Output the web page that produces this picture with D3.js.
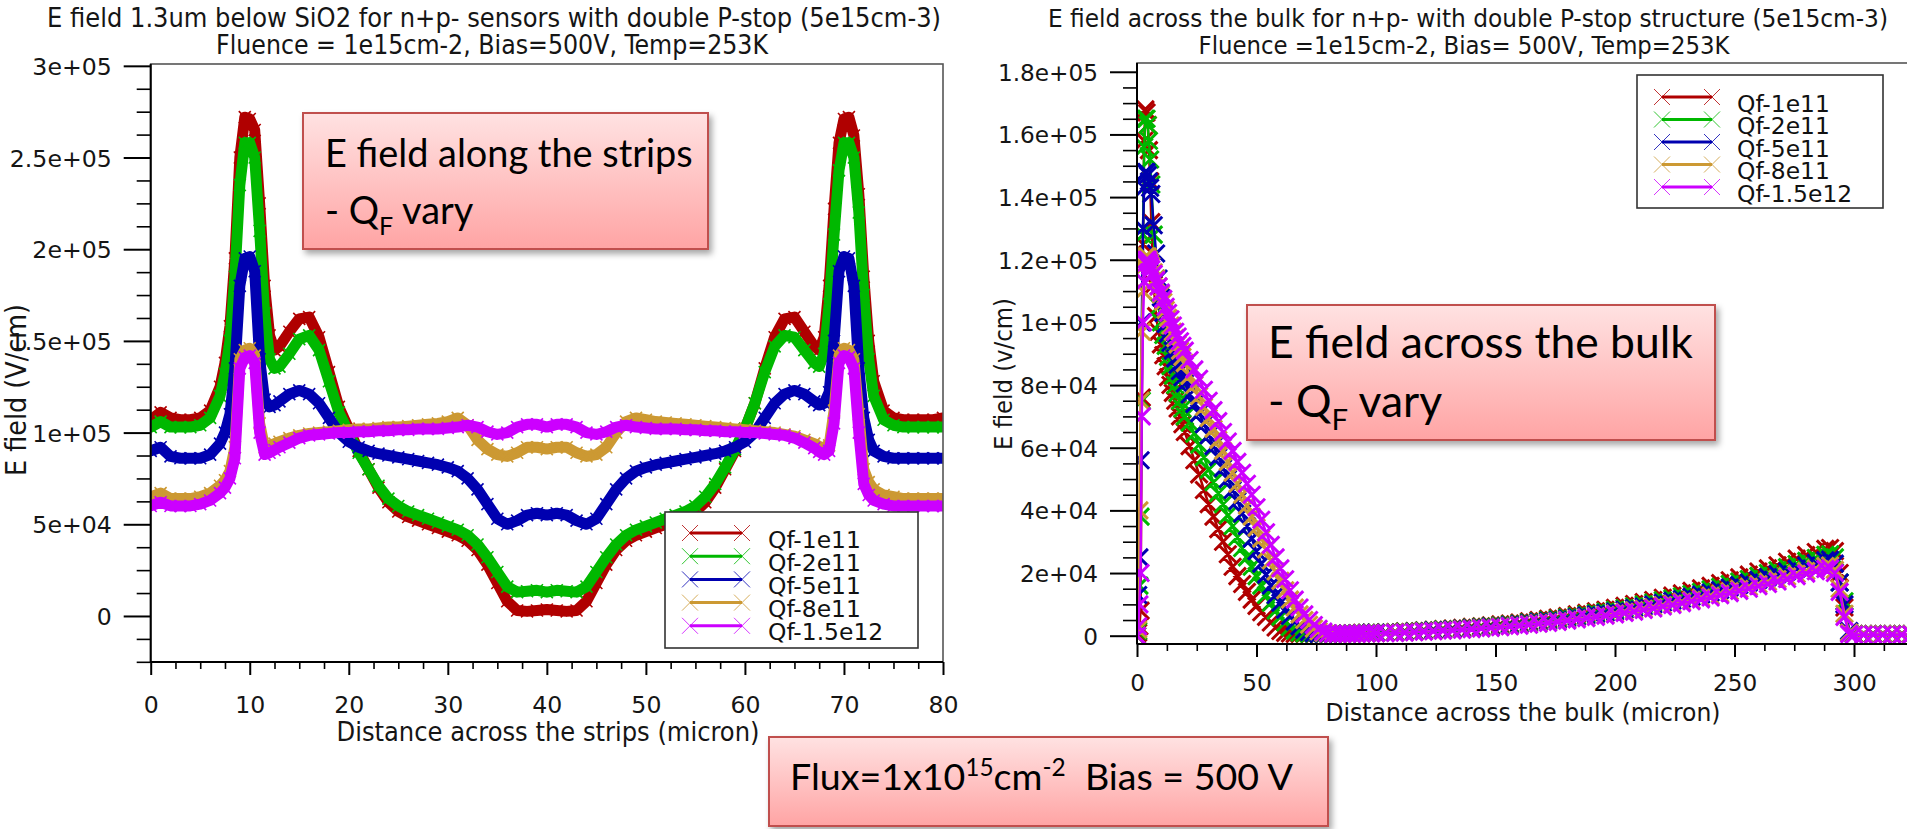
<!DOCTYPE html>
<html>
<head>
<meta charset="utf-8">
<title>E field – n+p- sensors with double P-stop</title>
<script src="https://cdn.jsdelivr.net/npm/d3@7/dist/d3.min.js"></script>
<style>
  html, body { margin: 0; padding: 0; background: #ffffff; overflow: hidden; }
  svg { display: block; }
</style>
</head>
<body>
<svg id="chart" width="1907" height="829"></svg>
<script>
// E field values are stored in kV/cm; KV converts them to V/cm for the axes.
const KV = 1000;
const seriesNames = ["Qf-1e11", "Qf-2e11", "Qf-5e11", "Qf-8e11", "Qf-1.5e12"];

// ---- Cut 1.3 um below the SiO2, across the strips (micron) ----
const stripX = [0,1,2,3,4,5,6,7,
  7.5,8,8.5,9,9.5,10,10.5,11,11.5,12,12.5,13,
  14,15,16,17,18,19,20,21,22,23,24,25,26,27,28,29,30,31,32,33,
  34,35,36,37,38,39,40,41,42,43,44,45,46,47,48,49,50,51,52,53,
  54,55,56,57,58,59,60,61,62,63,64,65,66,67,
  67.5,68,68.5,69,69.5,70,70.5,71,71.5,72,72.5,73,
  74,75,76,77,78,79,80];
const stripQf1e11 = [107,111,108,107,107,108,112,125,
  138,158,195,250,272,271,265,225,180,153,145,147,
  155,162,163,152,133,114,102,90,80,70, 62,57,54,52,50,48,46,44,41,36,
  28,18,8,3,2.5,3,3.5,3,2.5,3, 8,18,28,36,41,44,46,48,50,52,
  54,57,62,70,80,90,102,116,135,152, 162,163,155,147,
  145,152,180,222,258,271,272,262,230,185,150,128,
  112,108,107,107,107,107,108];
const stripQf2e11 = [103,106,103,103,103,104,108,120,
  132,150,185,235,258,258,250,210,165,140,135,136,
  143,151,153,145,128,111,100,89,80,71, 64,60,57,55,53,51,49,47,44,39,
  32,24,16,13,13.5,14,13,14,13.5,13, 16,24,32,39,44,47,49,51,53,55,
  57,60,65,72,81,91,102,116,133,147, 153,152,145,138,
  136,143,170,208,243,258,258,250,220,175,140,120,
  107,104,103,103,103,103,103];
const stripQf5e11 = [90,92,87,86,86,86,88,94,
  100,110,135,180,195,196,188,140,118,114,115,117,
  121,123,121,116,108,100,95,92,90,88.5, 87.5,86.5,85.5,84.5,83.5,82.5,81,79,75,69,
  61,53,50,52,55,56,55,56,55,52, 50,53,61,69,75,79,81,82.5,83.5,84.5,
  85.5,86.5,87.5,88.5,90,92,95,100,108,116, 121,123,121,117,
  115,116,122,150,188,196,195,180,135,108,96,90,
  87,86,86,86,86,86,86];
const stripQf8e11 = [65,67,64,64,64,65,67,71,
  74,79,92,140,145,146,142,105,92,93,94,95,
  97,98.5,99.5,100,100.5,101,101.5,102,102,102.5, 103,103,103.5,104,104.5,105,106,108,104,96,
  91,88,87,89,92,92,91,92,92,89, 87,88,92,100,106,108,107,106,105.5,105,
  104.5,104,103.5,103,102.5,102,101.5,101,100.5,100, 99,98,96,94,
  92.5,91,93,112,142,146,145,140,110,80,73,69,
  66,65,64,64,64,64,64];
const stripQf15e12 = [60,62,60,60,60,61,63,67,
  70,75,86,135,141,142,138,100,88,89,90.5,92,
  94.5,97,98.5,99,99.5,100,100,100.5,100.5,101, 101,101.5,101.5,102,102,102,102.5,103,104,103,
  100.5,99,100,103,104.5,104.5,103,104.5,104.5,103, 100,99,100.5,103,104,103,102.5,102,102,102,
  101.5,101.5,101,101,100.5,100.5,100,100,99.5,99, 98.5,97,94.5,91.5,
  89.5,88,90,105,138,142,141,135,100,72,66,63,
  61,60,60,60,60,60,60];

// ---- Cut across the bulk (micron) ----
const bulkX = [0,0.5,1,1.5,2,2.5,3,3.5,4,4.5,5,5.5,6,
  7,8,9,10,11,12,13,14,15,16,17,18,19,20,
  22,24,26,28,30,32,34,36,38,40, 42,44,46,48,50,52,54,56,58,60,
  62,64,66,68,70,72,74,76,78,80, 82,84,86,88,90,92,94,96,98,100,
  104,108,112,116,120,124,128,132,136,140, 144,148,152,156,160,164,168,172,176,180,
  184,188,192,196,200,204,208,212,216,220, 224,228,232,236,240,244,248,252,256,260,
  264,268,272,276,280,284,288,
  290,292,294,296,298,300,
  304,308,312,316,320,324,328];
const bulkQf1e11 = [0,1,3,8,76,125,158,168,167,163,155,145,132,
  112,102,97,93,89.5,86,82.5,80,77.5,75,72.5,70,67.5,65,
  60.5,56,51.5,46.5,42,38,34,30,26,22, 19,16.5,14,11.5,9.5,7.5,6,4.2,2.6,1.5,
  0.9,0.7,0.6,0.6,0.6,0.6,0.6,0.6,0.6,0.6, 0.6,0.6,0.7,0.7,0.8,0.8,0.9,0.9,1.0,1.0,
  1.1,1.2,1.4,1.5,1.7,1.9,2.1,2.3,2.5,2.8, 3.0,3.3,3.6,3.9,4.2,4.6,5.0,5.4,5.8,6.3,
  6.8,7.3,7.8,8.3,8.9,9.5,10.1,10.7,11.4,12.1, 12.8,13.5,14.3,15.1,15.9,16.8,17.7,18.6,19.5,20.5,
  21.5,22.5,23.6,24.6,25.7,26.7,27.7,
  28,27,20,9,1,0.5,
  0.5,0.5,0.5,0.5,0.5,0.5,0.5];
const bulkQf2e11 = [0,1.5,16,38,75,128,156,165,165,163,158,152,144,
  128,114,105,100,96,92.5,89,86,83,80,77.5,75,72.5,70,
  68,64.5,61,57,53,49,45.5,42,38.5,35, 31.5,28,25,22,19,16,13,10.5,8,6,
  4.2,2.7,1.6,1,0.7,0.6,0.6,0.6,0.6,0.6, 0.6,0.6,0.6,0.7,0.7,0.8,0.8,0.9,0.9,1.0,
  1.0,1.1,1.3,1.4,1.6,1.8,2.0,2.1,2.3,2.6, 2.8,3.1,3.3,3.6,3.9,4.3,4.6,5.0,5.4,5.9,
  6.3,6.8,7.3,7.7,8.3,8.8,9.4,10.0,10.6,11.3, 11.9,12.6,13.3,14.0,14.8,15.6,16.5,17.3,18.1,19.1,
  20.0,20.9,21.9,22.9,23.9,24.8,25.8,
  26,25,17,11,1,0.5,
  0.5,0.5,0.5,0.5,0.5,0.5,0.5];
const bulkQf5e11 = [0,13,25,56,100,130,143,148,148,147,145,143,141,
  131,122,114,108,103,99.5,96.5,93.5,91,88.5,86.5,84.5,82.5,80.5,
  77,74,71,67.5,64,60.5,57,53.5,50,46.5, 43,39,35,31,27,23,19.5,16,13,10.5,
  8.3,6.3,4.5,3,1.9,1.2,0.8,0.6,0.6,0.6, 0.6,0.6,0.6,0.6,0.7,0.7,0.8,0.8,0.9,0.9,
  1.0,1.0,1.2,1.3,1.5,1.7,1.8,2.0,2.2,2.4, 2.6,2.9,3.1,3.4,3.7,4.0,4.4,4.7,5.0,5.5,
  5.9,6.4,6.8,7.2,7.7,8.3,8.8,9.3,9.9,10.5, 11.1,11.7,12.4,13.1,13.8,14.6,15.4,16.2,17.0,17.8,
  18.7,19.6,20.5,21.4,22.4,23.2,24.1,
  24.3,23,17,10,1.5,0.5,
  0.5,0.5,0.5,0.5,0.5,0.5,0.5];
const bulkQf8e11 = [0,2,40,75,97,110,118,121,121,121,120,119,118,
  116,114,111.5,109,106.5,104,101.5,99,97,95,93,91,89,87,
  83,80,76.5,73,69.5,66,62.5,59,55.5,52, 48.5,45,41.5,38,34.5,31,27.5,24,20.5,17.5,
  14.5,11.5,9,6.8,5,3.5,2.3,1.4,0.9,0.7, 0.6,0.6,0.6,0.6,0.6,0.6,0.7,0.7,0.7,0.8,
  0.9,1.0,1.1,1.2,1.4,1.5,1.7,1.8,2.0,2.2, 2.4,2.6,2.9,3.1,3.4,3.7,4.0,4.3,4.6,5.0,
  5.4,5.8,6.2,6.6,7.1,7.6,8.1,8.6,9.1,9.7, 10.2,10.8,11.4,12.1,12.7,13.4,14.2,14.9,15.6,16.4,
  17.2,18.0,18.9,19.7,20.6,21.4,22.2,
  22.4,21,15,7,1,0.5,
  0.5,0.5,0.5,0.5,0.5,0.5,0.5];
const bulkQf15e12 = [0,3,10,20,70,100,113,119,120,120,119,118,117,
  115.5,113.5,111.5,109.5,107.5,105,103,101,99,97,95.5,94,92.5,91,
  88,85,82,78.5,75,72,68.5,65,62,59, 55.5,52,48.5,45,41,37,33,29,25,21.5,
  18,14.5,11.5,9,6.8,5,3.4,2.2,1.3,0.8, 0.6,0.6,0.6,0.6,0.6,0.6,0.7,0.7,0.7,0.8,
  0.8,0.9,1.0,1.1,1.3,1.4,1.6,1.7,1.9,2.1, 2.3,2.5,2.7,3.0,3.2,3.5,3.8,4.1,4.4,4.8,
  5.2,5.6,6.0,6.4,6.8,7.3,7.7,8.2,8.7,9.3, 9.8,10.4,11.0,11.6,12.2,12.9,13.6,14.3,15.0,15.8,
  16.5,17.3,18.1,19.0,19.8,20.6,21.3,
  21.5,20,14,6,0.5,0.3,
  0.3,0.4,0.3,0.4,0.3,0.4,0.3];

// ---- Axis ticks and labels ----
const stripXTicks = [0,10,20,30,40,50,60,70,80];
const stripXTickLabels = ["0","10","20","30","40","50","60","70","80"];
const stripYTicks = [0,5e4,1e5,1.5e5,2e5,2.5e5,3e5];
const stripYTickLabels = ["0","5e+04","1e+05","1.5e+05","2e+05","2.5e+05","3e+05"];
const bulkXTicks = [0,50,100,150,200,250,300];
const bulkXTickLabels = ["0","50","100","150","200","250","300"];
const bulkYTicks = [0,2e4,4e4,6e4,8e4,1e5,1.2e5,1.4e5,1.6e5,1.8e5];
const bulkYTickLabels = ["0","2e+04","4e+04","6e+04","8e+04","1e+05","1.2e+05","1.4e+05","1.6e+05","1.8e+05"];

// ---- Styling ----
const seriesColors = ["#b00000", "#00b800", "#0000b0", "#cc9933", "#cc00ff"];
const FONT_TICK = "'DejaVu Sans', sans-serif";
const FONT_ROOT = "'DejaVu Sans Condensed', 'DejaVu Sans', sans-serif";
const FONT_NOTE = "Lato, 'Open Sans', sans-serif";

const svg = d3.select("#chart");
svg.append("rect").attr("width", 1907).attr("height", 829).attr("fill", "#fff");
const defs = svg.append("defs");

// Panel geometry
const stripFrame = { left: 150.7, right: 943, top: 64, bottom: 662 };
const bulkFrame = { left: 1137, right: 1137 + 335 * 2.39, top: 63, bottom: 644 };

const stripXScale = d3.scaleLinear().domain([0, 80]).range([stripFrame.left, stripFrame.right]);
const stripYScale = d3.scaleLinear().domain([-25100, 301000]).range([stripFrame.bottom, stripFrame.top]);
const bulkXScale = d3.scaleLinear().domain([0, 335]).range([bulkFrame.left, bulkFrame.right]);
const bulkYScale = d3.scaleLinear().domain([-2650, 182800]).range([bulkFrame.bottom, bulkFrame.top]);

function clipFor(id, f) {
  defs.append("clipPath").attr("id", id).append("rect")
    .attr("x", f.left).attr("y", f.top)
    .attr("width", f.right - f.left).attr("height", f.bottom - f.top);
}
clipFor("clipStrip", stripFrame);
clipFor("clipBulk", bulkFrame);

function crossPath(points, h) {
  let d = "";
  points.forEach(([px, py]) => {
    d += `M${px - h},${py - h}L${px + h},${py + h}M${px - h},${py + h}L${px + h},${py - h}`;
  });
  return d;
}

function drawCurves(xs, seriesList, xScale, yScale, clipId, style) {
  const g = svg.append("g").attr("clip-path", `url(#${clipId})`);
  seriesList.forEach((vals, i) => {
    const pts = xs.map((xv, k) => [xScale(xv), yScale(vals[k] * KV)]);
    g.append("path")
      .attr("d", d3.line()(pts))
      .attr("fill", "none")
      .attr("stroke", seriesColors[i])
      .attr("stroke-width", style.lineWidth)
      .attr("stroke-linejoin", "round")
      .attr("stroke-linecap", "round");
    g.append("path")
      .attr("d", crossPath(pts, style.markHalf))
      .attr("fill", "none")
      .attr("stroke", seriesColors[i])
      .attr("stroke-width", style.markWidth);
  });
}

drawCurves(stripX, [stripQf1e11, stripQf2e11, stripQf5e11, stripQf8e11, stripQf15e12],
  stripXScale, stripYScale, "clipStrip", { lineWidth: 11, markHalf: 6, markWidth: 1.6 });
drawCurves(bulkX, [bulkQf1e11, bulkQf2e11, bulkQf5e11, bulkQf8e11, bulkQf15e12],
  bulkXScale, bulkYScale, "clipBulk", { lineWidth: 2.5, markHalf: 8.5, markWidth: 3 });

// ---- Frames and axes ----
function frame(f) {
  svg.append("rect")
    .attr("x", f.left).attr("y", f.top)
    .attr("width", f.right - f.left).attr("height", f.bottom - f.top)
    .attr("fill", "none").attr("stroke", "#555").attr("stroke-width", 1.6);
  svg.append("line").attr("x1", f.left).attr("x2", f.left).attr("y1", f.top).attr("y2", f.bottom)
    .attr("stroke", "#000").attr("stroke-width", 2);
  svg.append("line").attr("x1", f.left).attr("x2", f.right).attr("y1", f.bottom).attr("y2", f.bottom)
    .attr("stroke", "#000").attr("stroke-width", 2);
}
frame(stripFrame);
frame(bulkFrame);

function styleAxis(g, fontSize, dy) {
  g.select(".domain").remove();
  g.selectAll(".tick line").attr("stroke", "#000").attr("stroke-width", 2);
  g.selectAll(".tick text")
    .attr("font-family", FONT_TICK).attr("font-size", fontSize)
    .attr("fill", "#151515");
  if (dy !== undefined) g.selectAll(".tick text").attr("dy", dy);
}

function minorTicks(axis, transform) {
  const g = svg.append("g").attr("transform", transform).call(axis);
  g.select(".domain").remove();
  g.selectAll("text").remove();
  g.selectAll(".tick line").attr("stroke", "#000").attr("stroke-width", 1.6);
}

function yAxis(scale, x0, ticks, labels, minor, fontSize) {
  minorTicks(d3.axisLeft(scale).tickValues(minor).tickSize(14), `translate(${x0},0)`);
  const g = svg.append("g").attr("transform", `translate(${x0},0)`)
    .call(d3.axisLeft(scale).tickValues(ticks).tickFormat((d, i) => labels[i]).tickSize(27).tickPadding(12));
  styleAxis(g, fontSize, "0.36em");
}

function xAxis(scale, y0, ticks, labels, minor, fontSize, pad) {
  minorTicks(d3.axisBottom(scale).tickValues(minor).tickSize(7), `translate(0,${y0})`);
  const g = svg.append("g").attr("transform", `translate(0,${y0})`)
    .call(d3.axisBottom(scale).tickValues(ticks).tickFormat((d, i) => labels[i]).tickSize(13).tickPadding(pad));
  styleAxis(g, fontSize);
}

yAxis(stripYScale, stripFrame.left, stripYTicks, stripYTickLabels,
  d3.range(-25000, 300001, 12500).filter(v => v % 50000 !== 0), 23.6);
xAxis(stripXScale, stripFrame.bottom, stripXTicks, stripXTickLabels,
  d3.range(0, 80.01, 2.5).filter(v => v % 10 !== 0), 23.6, 21);
yAxis(bulkYScale, bulkFrame.left, bulkYTicks, bulkYTickLabels,
  d3.range(0, 180001, 5000).filter(v => v % 20000 !== 0), 23.2);
xAxis(bulkXScale, bulkFrame.bottom, bulkXTicks, bulkXTickLabels,
  d3.range(0, 330, 12.5).filter(v => v % 50 !== 0), 23.2, 18);

// ---- Titles ----
function rootText(x, y, str, size, width, rotate) {
  const t = svg.append("text")
    .attr("font-family", FONT_ROOT).attr("font-size", size)
    .attr("fill", "#151515").attr("text-anchor", "middle")
    .attr("textLength", width).attr("lengthAdjust", "spacingAndGlyphs")
    .text(str);
  if (rotate) t.attr("transform", `translate(${x},${y}) rotate(-90)`);
  else t.attr("x", x).attr("y", y);
  return t;
}
rootText(494, 27, "E field 1.3um below SiO2 for n+p- sensors with double P-stop (5e15cm-3)", 26, 894);
rootText(492, 53.5, "Fluence = 1e15cm-2, Bias=500V, Temp=253K", 26, 552);
rootText(1468, 27, "E field across the bulk for n+p- with double P-stop structure (5e15cm-3)", 25, 840);
rootText(1464, 53.5, "Fluence =1e15cm-2, Bias= 500V, Temp=253K", 25, 531);

rootText(548, 741, "Distance across the strips (micron)", 26, 423);
rootText(1523, 721, "Distance across the bulk (micron)", 25, 395);
rootText(26, 390, "E field (V/cm)", 28, 172, true);
rootText(1012, 374, "E field (v/cm)", 25, 152, true);

// ---- Legends ----
function legend(box, rowY0, rowStep, lineX0, lineX1, textX) {
  svg.append("rect").attr("x", box.x).attr("y", box.y).attr("width", box.w).attr("height", box.h)
    .attr("fill", "#fff").attr("stroke", "#333").attr("stroke-width", 1.6);
  seriesNames.forEach((name, i) => {
    const y = rowY0 + i * rowStep;
    svg.append("line").attr("x1", lineX0).attr("x2", lineX1).attr("y1", y).attr("y2", y)
      .attr("stroke", seriesColors[i]).attr("stroke-width", 3);
    svg.append("path").attr("d", crossPath([[lineX0, y], [lineX1, y]], 8))
      .attr("stroke", seriesColors[i]).attr("stroke-width", 1).attr("opacity", 0.8).attr("fill", "none");
    svg.append("text").attr("x", textX).attr("y", y + 14.5)
      .attr("font-family", FONT_TICK).attr("font-size", 23.4).attr("fill", "#111")
      .text(name);
  });
}
legend({ x: 665, y: 512, w: 253, h: 136 }, 533, 23.2, 690, 742, 768);
legend({ x: 1637, y: 75, w: 246, h: 133 }, 97, 22.5, 1662, 1712, 1737);

// ---- Slide notes ----
const grad = defs.append("linearGradient").attr("id", "noteFill")
  .attr("x1", 0).attr("y1", 0).attr("x2", 0).attr("y2", 1);
grad.append("stop").attr("offset", "0%").attr("stop-color", "#ffe2e2");
grad.append("stop").attr("offset", "100%").attr("stop-color", "#ffa4a4");
const shadow = defs.append("filter").attr("id", "noteShadow")
  .attr("x", "-10%").attr("y", "-10%").attr("width", "125%").attr("height", "140%");
shadow.append("feDropShadow").attr("dx", 3).attr("dy", 4).attr("stdDeviation", 3)
  .attr("flood-color", "#000").attr("flood-opacity", 0.35);

function noteBox(x, y, w, h) {
  svg.append("rect").attr("x", x).attr("y", y).attr("width", w).attr("height", h)
    .attr("fill", "url(#noteFill)").attr("stroke", "#c0504d").attr("stroke-width", 2)
    .attr("filter", "url(#noteShadow)");
}
function fitText(t, base, target) {
  const w = t.node().getComputedTextLength();
  const fs = base * target / w;
  t.attr("font-size", fs);
  return fs;
}
function qfNote(box, x, y1, y2, first, width1) {
  noteBox(box.x, box.y, box.w, box.h);
  const t1 = svg.append("text").attr("x", x).attr("y", y1)
    .attr("font-family", FONT_NOTE).attr("font-size", 40).attr("fill", "#000").text(first);
  const fs = fitText(t1, 40, width1);
  const t2 = svg.append("text").attr("x", x).attr("y", y2)
    .attr("font-family", FONT_NOTE).attr("font-size", fs).attr("fill", "#000");
  t2.append("tspan").text("- Q");
  t2.append("tspan").attr("font-size", fs * 0.66).attr("dy", fs * 0.3).text("F");
  t2.append("tspan").attr("dy", -fs * 0.3).text(" vary");
}
qfNote({ x: 303, y: 113, w: 405, h: 136 }, 325, 167, 224, "E field along the strips", 368);
qfNote({ x: 1247, y: 305, w: 468, h: 135 }, 1268, 358, 417, "E field across the bulk", 425);

noteBox(769, 737, 559, 89);
const flux = svg.append("text").attr("x", 790).attr("y", 790)
  .attr("font-family", FONT_NOTE).attr("font-size", 40).attr("fill", "#000");
flux.append("tspan").text("Flux=1x10");
flux.append("tspan").attr("class", "sup").attr("dy", -14).text("15");
flux.append("tspan").attr("class", "base").attr("dy", 14).text("cm");
flux.append("tspan").attr("class", "sup").attr("dy", -14).text("-2");
flux.append("tspan").attr("class", "base").attr("dy", 14).text("\u00a0\u00a0Bias = 500 V");
flux.selectAll(".sup").attr("font-size", 26);
const fluxFs = fitText(flux, 40, 503);
flux.selectAll(".sup").attr("font-size", fluxFs * 0.65);
</script>
</body>
</html>
